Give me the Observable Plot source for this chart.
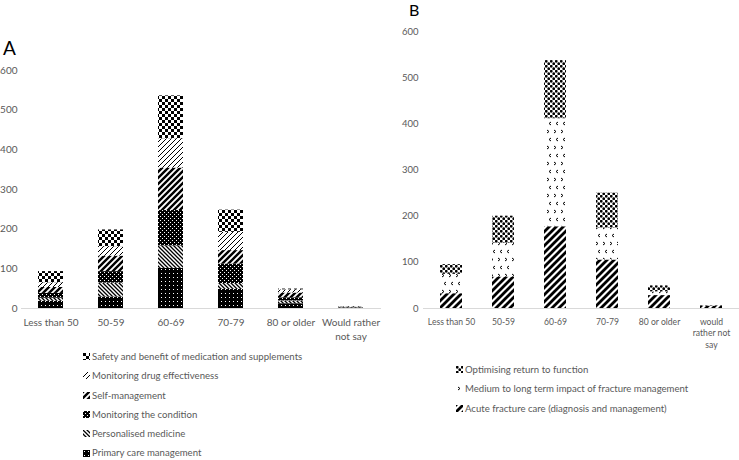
<!DOCTYPE html>
<html>
<head>
<meta charset="utf-8">
<script src="https://cdn.jsdelivr.net/npm/d3@7"></script>
<script src="https://cdn.jsdelivr.net/npm/@observablehq/plot@0.6"></script>
<style>
  html, body { margin:0; padding:0; background:#fff; }
  body { width:739px; height:460px; position:relative; overflow:hidden; font-family: Lato, "Open Sans", sans-serif; }
  #defs { position:absolute; width:0; height:0; }
  .panel { position:absolute; top:0; }
  .panel svg { overflow: visible; }
  .letter { position:absolute; color:#000; font-family: Lato, sans-serif; }
  .legend { position:absolute; font-size:9.6px; color:#595959; }
  .legend div { height:19.3px; line-height:19.3px; white-space:nowrap; display:flex; align-items:center; }
  .legend svg { margin-right:2px; }
</style>
</head>
<body>
<svg id="defs" width="0" height="0">
  <defs>
    <pattern id="pPrimary" width="4" height="4" patternUnits="userSpaceOnUse">
      <rect width="4" height="4" fill="#000"/><rect x="1" y="1" width="1" height="1" fill="#fff"/>
    </pattern>
    <pattern id="pCondition" width="4" height="4" patternUnits="userSpaceOnUse">
      <rect width="4" height="4" fill="#000"/><rect x="0" y="0" width="1" height="1" fill="#fff"/><rect x="2" y="2" width="1" height="1" fill="#fff"/>
    </pattern>
    <pattern id="pPersonal" width="4" height="4" patternUnits="userSpaceOnUse">
      <rect width="4" height="4" fill="#fff"/>
      <path d="M-1,-1 L5,5 M-1,3 L1,5 M3,-1 L5,1" stroke="#000" stroke-width="1.3"/>
    </pattern>
    <pattern id="pSelf" width="6" height="6" patternUnits="userSpaceOnUse">
      <rect width="6" height="6" fill="#fff"/>
      <path d="M-1,7 L7,-1 M-4,4 L4,-4 M2,10 L10,2" stroke="#000" stroke-width="2.4"/>
    </pattern>
    <pattern id="pDrug" width="5" height="5" patternUnits="userSpaceOnUse">
      <rect width="5" height="5" fill="#fff"/>
      <path d="M-1,6 L6,-1 M-3,3 L3,-3 M2,8 L8,2" stroke="#000" stroke-width="1"/>
    </pattern>
    <pattern id="pSafety" width="6" height="6" patternUnits="userSpaceOnUse">
      <rect width="6" height="6" fill="#fff"/>
      <rect x="0" y="0" width="3" height="3" fill="#000"/><rect x="3" y="3" width="3" height="3" fill="#000"/>
    </pattern>
    <pattern id="pAcute" width="7" height="7" patternUnits="userSpaceOnUse">
      <rect width="7" height="7" fill="#fff"/>
      <path d="M-1,8 L8,-1 M-4.5,4.5 L4.5,-4.5 M2.5,11.5 L11.5,2.5" stroke="#000" stroke-width="2.8"/>
    </pattern>
    <pattern id="pMedium" width="14" height="16" patternUnits="userSpaceOnUse">
      <rect width="14" height="16" fill="#fff"/>
      <path d="M2,2 L4,3.5 L2,5 M9,2 L11,3.5 L9,5 M6,10 L4,11.5 L6,13 M13,10 L11,11.5 L13,13" stroke="#000" stroke-width="1" fill="none"/>
    </pattern>
    <pattern id="pOptim" width="5" height="5" patternUnits="userSpaceOnUse">
      <rect width="5" height="5" fill="#fff"/>
      <circle cx="1.25" cy="1.25" r="1.4" fill="#000"/><circle cx="3.75" cy="3.75" r="1.4" fill="#000"/>
    </pattern>
  </defs>
</svg>

<div class="letter" style="left:3px; top:36px; font-size:19px;">A</div>
<div class="letter" style="left:409px; top:0px; font-size:16px;">B</div>
<div id="panelA" class="panel" style="left:0px;"></div>
<div id="panelB" class="panel" style="left:370px;"></div>
<div id="legendA" class="legend" style="left:83px; top:347px;"></div>
<div id="legendB" class="legend" style="left:456px; top:360px;"></div>

<script>
// Shared categories
const ages = ["Less than 50", "50-59", "60-69", "70-79", "80 or older", "Would rather not say"];
const ageLabelsA = ["Less than 50", "50-59", "60-69", "70-79", "80 or older", "Would rather\nnot say"];
const ageLabelsB = ["Less than 50", "50-59", "60-69", "70-79", "80 or older", "would\nrather not\nsay"];
const yTicks = [0, 100, 200, 300, 400, 500, 600];

// Panel A series (bottom to top)
const seriesA = ["Primary care management", "Personalised medicine", "Monitoring the condition", "Self-management", "Monitoring drug effectiveness", "Safety and benefit of medication and supplements"];
const primaryCare        = [18, 29, 101, 48, 12, 1];
const personalised       = [8, 35, 57, 15, 7, 1];
const monitoringCondition= [12, 29, 89, 49, 8, 1];
const selfManagement     = [15, 39, 107, 34, 12, 1];
const drugEffectiveness  = [12, 24, 74, 46, 8, 1];
const safetyBenefit      = [28, 42, 108, 56, 2, 0];

// Panel B series (bottom to top)
const seriesB = ["Acute fracture care (diagnosis and management)", "Medium to long term impact of fracture management", "Optimising return to function"];
const acuteCare   = [32, 68, 177, 105, 28, 5];
const mediumLong  = [42, 73, 234, 69, 8, 0];
const optimising  = [21, 59, 126, 76, 13, 1];

const patternsA = ["url(#pPrimary)", "url(#pPersonal)", "url(#pCondition)", "url(#pSelf)", "url(#pDrug)", "url(#pSafety)"];
const patternsB = ["url(#pAcute)", "url(#pMedium)", "url(#pOptim)"];

const valuesA = [primaryCare, personalised, monitoringCondition, selfManagement, drugEffectiveness, safetyBenefit];
const valuesB = [acuteCare, mediumLong, optimising];

const dataA = [];
ages.forEach((a, i) => seriesA.forEach((s, j) => dataA.push({age: a, series: s, value: valuesA[j][i]})));
const dataB = [];
ages.forEach((a, i) => seriesB.forEach((s, j) => dataB.push({age: a, series: s, value: valuesB[j][i]})));

function makePanel(data, series, patterns, labels, opts) {
  return Plot.plot({
    width: opts.width, height: 348,
    marginTop: opts.marginTop, marginBottom: 40, marginLeft: opts.marginLeft, marginRight: opts.marginRight,
    style: {fontFamily: "Lato, sans-serif", fontSize: opts.fontSize, color: "#595959", background: "transparent", overflow: "visible"},
    x: {domain: ages, paddingInner: 0.58, paddingOuter: 0.29, label: null},
    y: {domain: [0, 600], label: null},
    color: {type: "ordinal", domain: series, range: patterns},
    marks: [
      Plot.axisY({ticks: yTicks, tickSize: 0, tickPadding: opts.yPad, label: null, fontSize: opts.yFont}),
      Plot.axisX({tickSize: 0, tickPadding: 8, label: null, lineHeight: 1.35,
                  tickFormat: d => labels[ages.indexOf(d)]}),
      Plot.ruleY([0], {stroke: "#d9d9d9"}),
      Plot.barY(data, {x: "age", y: "value", fill: "series"})
    ]
  });
}

document.getElementById("panelA").append(makePanel(dataA, seriesA, patternsA, ageLabelsA,
  {width: 390, marginTop: 70, marginLeft: 21, marginRight: 9, yPad: 4, fontSize: "10px", yFont: 10}));
document.getElementById("panelB").append(makePanel(dataB, seriesB, patternsB, ageLabelsB,
  {width: 369, marginTop: 31, marginLeft: 53, marginRight: 0, yPad: 5, fontSize: "8.6px", yFont: 9.5}));

function legend(el, series, patterns) {
  const host = document.getElementById(el);
  for (let k = series.length - 1; k >= 0; k--) {
    const row = document.createElement("div");
    row.innerHTML = `<svg width="7" height="7"><rect width="7" height="7" fill="${patterns[k]}"/></svg><span>${series[k]}</span>`;
    host.append(row);
  }
}
legend("legendA", seriesA, patternsA);
legend("legendB", seriesB, patternsB);
</script>
</body>
</html>
